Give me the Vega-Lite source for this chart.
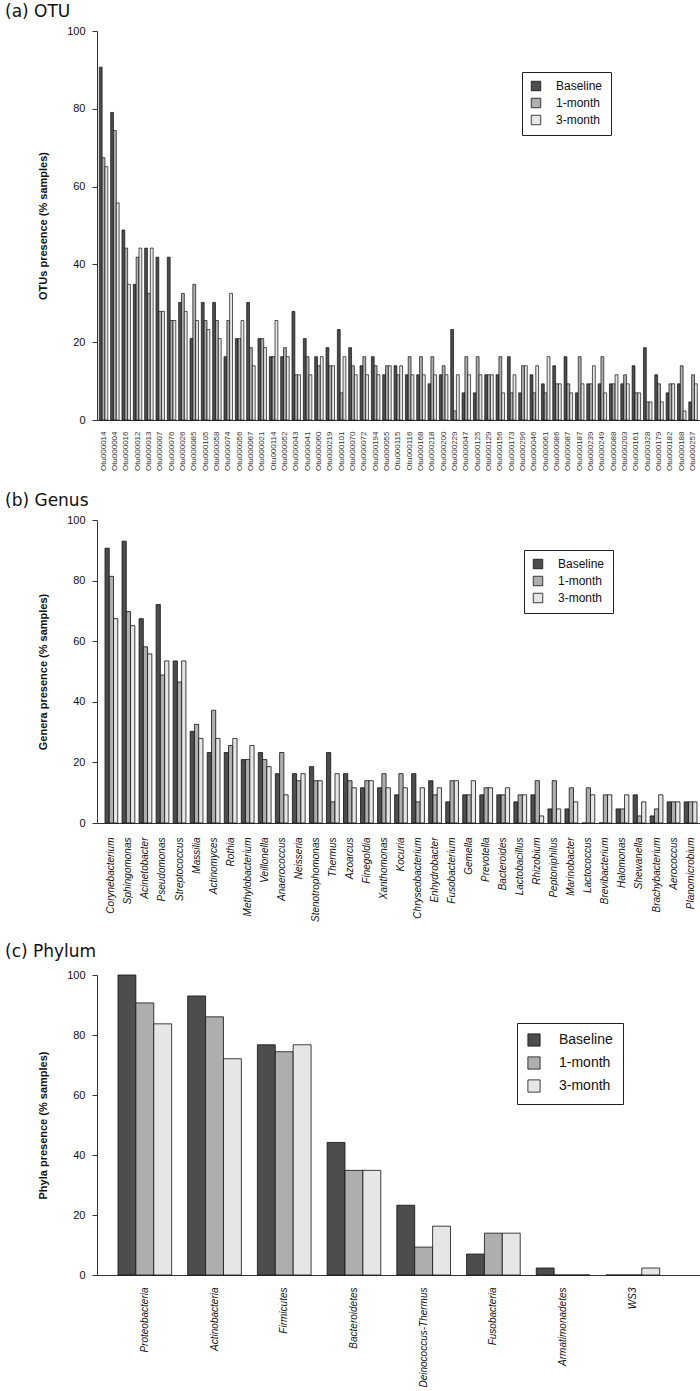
{
  "$schema": "https://vega.github.io/schema/vega-lite/v6.json",
  "background": "white",
  "padding": {"left": 5, "top": 3, "right": 0, "bottom": 0},
  "spacing": 21,
  "config": {
    "font": "Liberation Sans",
    "view": {"stroke": null},
    "axis": {"grid": false, "labelFont": "Liberation Sans", "titleFont": "Liberation Sans", "labelColor": "#111", "titleColor": "#111", "domainColor": "#333", "tickColor": "#333"},
    "title": {"font": "DejaVu Sans", "fontSize": 17, "fontWeight": "normal", "anchor": "start", "frame": "bounds", "color": "#111", "offset": 4},
    "legend": {"strokeColor": "#222", "padding": 8, "symbolType": "square", "symbolSize": 90, "symbolStrokeColor": "#111", "symbolStrokeWidth": 0.8, "labelFont": "Liberation Sans", "labelFontSize": 12, "labelColor": "#111", "labelOffset": 14, "rowPadding": 3, "fillColor": "white"}
  },
  "resolve": {"scale": {"fill": "independent", "x": "independent", "y": "independent", "xOffset": "independent"}, "legend": {"fill": "independent"}},
  "datasets": {
    "otu": [
      {"name": "Otu000014", "period": "Baseline", "value": 90.70}, {"name": "Otu000014", "period": "1-month", "value": 67.44}, {"name": "Otu000014", "period": "3-month", "value": 65.12},
      {"name": "Otu000004", "period": "Baseline", "value": 79.07}, {"name": "Otu000004", "period": "1-month", "value": 74.42}, {"name": "Otu000004", "period": "3-month", "value": 55.81},
      {"name": "Otu000016", "period": "Baseline", "value": 48.84}, {"name": "Otu000016", "period": "1-month", "value": 44.19}, {"name": "Otu000016", "period": "3-month", "value": 34.88},
      {"name": "Otu000012", "period": "Baseline", "value": 34.88}, {"name": "Otu000012", "period": "1-month", "value": 41.86}, {"name": "Otu000012", "period": "3-month", "value": 44.19},
      {"name": "Otu000013", "period": "Baseline", "value": 44.19}, {"name": "Otu000013", "period": "1-month", "value": 32.56}, {"name": "Otu000013", "period": "3-month", "value": 44.19},
      {"name": "Otu000007", "period": "Baseline", "value": 41.86}, {"name": "Otu000007", "period": "1-month", "value": 27.91}, {"name": "Otu000007", "period": "3-month", "value": 27.91},
      {"name": "Otu000076", "period": "Baseline", "value": 41.86}, {"name": "Otu000076", "period": "1-month", "value": 25.58}, {"name": "Otu000076", "period": "3-month", "value": 25.58},
      {"name": "Otu000026", "period": "Baseline", "value": 30.23}, {"name": "Otu000026", "period": "1-month", "value": 32.56}, {"name": "Otu000026", "period": "3-month", "value": 27.91},
      {"name": "Otu000085", "period": "Baseline", "value": 20.93}, {"name": "Otu000085", "period": "1-month", "value": 34.88}, {"name": "Otu000085", "period": "3-month", "value": 25.58},
      {"name": "Otu000105", "period": "Baseline", "value": 30.23}, {"name": "Otu000105", "period": "1-month", "value": 25.58}, {"name": "Otu000105", "period": "3-month", "value": 23.26},
      {"name": "Otu000058", "period": "Baseline", "value": 30.23}, {"name": "Otu000058", "period": "1-month", "value": 25.58}, {"name": "Otu000058", "period": "3-month", "value": 20.93},
      {"name": "Otu000074", "period": "Baseline", "value": 16.28}, {"name": "Otu000074", "period": "1-month", "value": 25.58}, {"name": "Otu000074", "period": "3-month", "value": 32.56},
      {"name": "Otu000056", "period": "Baseline", "value": 20.93}, {"name": "Otu000056", "period": "1-month", "value": 20.93}, {"name": "Otu000056", "period": "3-month", "value": 25.58},
      {"name": "Otu000067", "period": "Baseline", "value": 30.23}, {"name": "Otu000067", "period": "1-month", "value": 18.60}, {"name": "Otu000067", "period": "3-month", "value": 13.95},
      {"name": "Otu000021", "period": "Baseline", "value": 20.93}, {"name": "Otu000021", "period": "1-month", "value": 20.93}, {"name": "Otu000021", "period": "3-month", "value": 18.60},
      {"name": "Otu000114", "period": "Baseline", "value": 16.28}, {"name": "Otu000114", "period": "1-month", "value": 16.28}, {"name": "Otu000114", "period": "3-month", "value": 25.58},
      {"name": "Otu000052", "period": "Baseline", "value": 16.28}, {"name": "Otu000052", "period": "1-month", "value": 18.60}, {"name": "Otu000052", "period": "3-month", "value": 16.28},
      {"name": "Otu000043", "period": "Baseline", "value": 27.91}, {"name": "Otu000043", "period": "1-month", "value": 11.63}, {"name": "Otu000043", "period": "3-month", "value": 11.63},
      {"name": "Otu000041", "period": "Baseline", "value": 20.93}, {"name": "Otu000041", "period": "1-month", "value": 16.28}, {"name": "Otu000041", "period": "3-month", "value": 11.63},
      {"name": "Otu000060", "period": "Baseline", "value": 16.28}, {"name": "Otu000060", "period": "1-month", "value": 13.95}, {"name": "Otu000060", "period": "3-month", "value": 16.28},
      {"name": "Otu000219", "period": "Baseline", "value": 18.60}, {"name": "Otu000219", "period": "1-month", "value": 13.95}, {"name": "Otu000219", "period": "3-month", "value": 13.95},
      {"name": "Otu000101", "period": "Baseline", "value": 23.26}, {"name": "Otu000101", "period": "1-month", "value": 6.98}, {"name": "Otu000101", "period": "3-month", "value": 16.28},
      {"name": "Otu000070", "period": "Baseline", "value": 18.60}, {"name": "Otu000070", "period": "1-month", "value": 13.95}, {"name": "Otu000070", "period": "3-month", "value": 11.63},
      {"name": "Otu000072", "period": "Baseline", "value": 13.95}, {"name": "Otu000072", "period": "1-month", "value": 16.28}, {"name": "Otu000072", "period": "3-month", "value": 11.63},
      {"name": "Otu000194", "period": "Baseline", "value": 16.28}, {"name": "Otu000194", "period": "1-month", "value": 13.95}, {"name": "Otu000194", "period": "3-month", "value": 11.63},
      {"name": "Otu000055", "period": "Baseline", "value": 11.63}, {"name": "Otu000055", "period": "1-month", "value": 13.95}, {"name": "Otu000055", "period": "3-month", "value": 13.95},
      {"name": "Otu000115", "period": "Baseline", "value": 13.95}, {"name": "Otu000115", "period": "1-month", "value": 11.63}, {"name": "Otu000115", "period": "3-month", "value": 13.95},
      {"name": "Otu000116", "period": "Baseline", "value": 11.63}, {"name": "Otu000116", "period": "1-month", "value": 16.28}, {"name": "Otu000116", "period": "3-month", "value": 11.63},
      {"name": "Otu000168", "period": "Baseline", "value": 11.63}, {"name": "Otu000168", "period": "1-month", "value": 16.28}, {"name": "Otu000168", "period": "3-month", "value": 11.63},
      {"name": "Otu000218", "period": "Baseline", "value": 9.30}, {"name": "Otu000218", "period": "1-month", "value": 16.28}, {"name": "Otu000218", "period": "3-month", "value": 11.63},
      {"name": "Otu000200", "period": "Baseline", "value": 11.63}, {"name": "Otu000200", "period": "1-month", "value": 13.95}, {"name": "Otu000200", "period": "3-month", "value": 11.63},
      {"name": "Otu000229", "period": "Baseline", "value": 23.26}, {"name": "Otu000229", "period": "1-month", "value": 2.33}, {"name": "Otu000229", "period": "3-month", "value": 11.63},
      {"name": "Otu000047", "period": "Baseline", "value": 6.98}, {"name": "Otu000047", "period": "1-month", "value": 16.28}, {"name": "Otu000047", "period": "3-month", "value": 11.63},
      {"name": "Otu000125", "period": "Baseline", "value": 6.98}, {"name": "Otu000125", "period": "1-month", "value": 16.28}, {"name": "Otu000125", "period": "3-month", "value": 11.63},
      {"name": "Otu000129", "period": "Baseline", "value": 11.63}, {"name": "Otu000129", "period": "1-month", "value": 11.63}, {"name": "Otu000129", "period": "3-month", "value": 11.63},
      {"name": "Otu000156", "period": "Baseline", "value": 11.63}, {"name": "Otu000156", "period": "1-month", "value": 16.28}, {"name": "Otu000156", "period": "3-month", "value": 6.98},
      {"name": "Otu000173", "period": "Baseline", "value": 16.28}, {"name": "Otu000173", "period": "1-month", "value": 6.98}, {"name": "Otu000173", "period": "3-month", "value": 11.63},
      {"name": "Otu000296", "period": "Baseline", "value": 6.98}, {"name": "Otu000296", "period": "1-month", "value": 13.95}, {"name": "Otu000296", "period": "3-month", "value": 13.95},
      {"name": "Otu000046", "period": "Baseline", "value": 11.63}, {"name": "Otu000046", "period": "1-month", "value": 6.98}, {"name": "Otu000046", "period": "3-month", "value": 13.95},
      {"name": "Otu000061", "period": "Baseline", "value": 9.30}, {"name": "Otu000061", "period": "1-month", "value": 6.98}, {"name": "Otu000061", "period": "3-month", "value": 16.28},
      {"name": "Otu000086", "period": "Baseline", "value": 13.95}, {"name": "Otu000086", "period": "1-month", "value": 9.30}, {"name": "Otu000086", "period": "3-month", "value": 9.30},
      {"name": "Otu000087", "period": "Baseline", "value": 16.28}, {"name": "Otu000087", "period": "1-month", "value": 9.30}, {"name": "Otu000087", "period": "3-month", "value": 6.98},
      {"name": "Otu000187", "period": "Baseline", "value": 6.98}, {"name": "Otu000187", "period": "1-month", "value": 16.28}, {"name": "Otu000187", "period": "3-month", "value": 9.30},
      {"name": "Otu000239", "period": "Baseline", "value": 9.30}, {"name": "Otu000239", "period": "1-month", "value": 9.30}, {"name": "Otu000239", "period": "3-month", "value": 13.95},
      {"name": "Otu000249", "period": "Baseline", "value": 9.30}, {"name": "Otu000249", "period": "1-month", "value": 16.28}, {"name": "Otu000249", "period": "3-month", "value": 6.98},
      {"name": "Otu000088", "period": "Baseline", "value": 9.30}, {"name": "Otu000088", "period": "1-month", "value": 9.30}, {"name": "Otu000088", "period": "3-month", "value": 11.63},
      {"name": "Otu000203", "period": "Baseline", "value": 9.30}, {"name": "Otu000203", "period": "1-month", "value": 11.63}, {"name": "Otu000203", "period": "3-month", "value": 9.30},
      {"name": "Otu000161", "period": "Baseline", "value": 13.95}, {"name": "Otu000161", "period": "1-month", "value": 6.98}, {"name": "Otu000161", "period": "3-month", "value": 6.98},
      {"name": "Otu000328", "period": "Baseline", "value": 18.60}, {"name": "Otu000328", "period": "1-month", "value": 4.65}, {"name": "Otu000328", "period": "3-month", "value": 4.65},
      {"name": "Otu000179", "period": "Baseline", "value": 11.63}, {"name": "Otu000179", "period": "1-month", "value": 9.30}, {"name": "Otu000179", "period": "3-month", "value": 4.65},
      {"name": "Otu000182", "period": "Baseline", "value": 6.98}, {"name": "Otu000182", "period": "1-month", "value": 9.30}, {"name": "Otu000182", "period": "3-month", "value": 9.30},
      {"name": "Otu000188", "period": "Baseline", "value": 9.30}, {"name": "Otu000188", "period": "1-month", "value": 13.95}, {"name": "Otu000188", "period": "3-month", "value": 2.33},
      {"name": "Otu000257", "period": "Baseline", "value": 4.65}, {"name": "Otu000257", "period": "1-month", "value": 11.63}, {"name": "Otu000257", "period": "3-month", "value": 9.30}
    ],
    "genus": [
      {"name": "Corynebacterium", "period": "Baseline", "value": 90.70}, {"name": "Corynebacterium", "period": "1-month", "value": 81.40}, {"name": "Corynebacterium", "period": "3-month", "value": 67.44},
      {"name": "Sphingomonas", "period": "Baseline", "value": 93.02}, {"name": "Sphingomonas", "period": "1-month", "value": 69.77}, {"name": "Sphingomonas", "period": "3-month", "value": 65.12},
      {"name": "Acinetobacter", "period": "Baseline", "value": 67.44}, {"name": "Acinetobacter", "period": "1-month", "value": 58.14}, {"name": "Acinetobacter", "period": "3-month", "value": 55.81},
      {"name": "Pseudomonas", "period": "Baseline", "value": 72.09}, {"name": "Pseudomonas", "period": "1-month", "value": 48.84}, {"name": "Pseudomonas", "period": "3-month", "value": 53.49},
      {"name": "Streptococcus", "period": "Baseline", "value": 53.49}, {"name": "Streptococcus", "period": "1-month", "value": 46.51}, {"name": "Streptococcus", "period": "3-month", "value": 53.49},
      {"name": "Massilia", "period": "Baseline", "value": 30.23}, {"name": "Massilia", "period": "1-month", "value": 32.56}, {"name": "Massilia", "period": "3-month", "value": 27.91},
      {"name": "Actinomyces", "period": "Baseline", "value": 23.26}, {"name": "Actinomyces", "period": "1-month", "value": 37.21}, {"name": "Actinomyces", "period": "3-month", "value": 27.91},
      {"name": "Rothia", "period": "Baseline", "value": 23.26}, {"name": "Rothia", "period": "1-month", "value": 25.58}, {"name": "Rothia", "period": "3-month", "value": 27.91},
      {"name": "Methylobacterium", "period": "Baseline", "value": 20.93}, {"name": "Methylobacterium", "period": "1-month", "value": 20.93}, {"name": "Methylobacterium", "period": "3-month", "value": 25.58},
      {"name": "Veillonella", "period": "Baseline", "value": 23.26}, {"name": "Veillonella", "period": "1-month", "value": 20.93}, {"name": "Veillonella", "period": "3-month", "value": 18.60},
      {"name": "Anaerococcus", "period": "Baseline", "value": 16.28}, {"name": "Anaerococcus", "period": "1-month", "value": 23.26}, {"name": "Anaerococcus", "period": "3-month", "value": 9.30},
      {"name": "Neisseria", "period": "Baseline", "value": 16.28}, {"name": "Neisseria", "period": "1-month", "value": 13.95}, {"name": "Neisseria", "period": "3-month", "value": 16.28},
      {"name": "Stenotrophomonas", "period": "Baseline", "value": 18.60}, {"name": "Stenotrophomonas", "period": "1-month", "value": 13.95}, {"name": "Stenotrophomonas", "period": "3-month", "value": 13.95},
      {"name": "Thermus", "period": "Baseline", "value": 23.26}, {"name": "Thermus", "period": "1-month", "value": 6.98}, {"name": "Thermus", "period": "3-month", "value": 16.28},
      {"name": "Azoarcus", "period": "Baseline", "value": 16.28}, {"name": "Azoarcus", "period": "1-month", "value": 13.95}, {"name": "Azoarcus", "period": "3-month", "value": 11.63},
      {"name": "Finegoldia", "period": "Baseline", "value": 11.63}, {"name": "Finegoldia", "period": "1-month", "value": 13.95}, {"name": "Finegoldia", "period": "3-month", "value": 13.95},
      {"name": "Xanthomonas", "period": "Baseline", "value": 11.63}, {"name": "Xanthomonas", "period": "1-month", "value": 16.28}, {"name": "Xanthomonas", "period": "3-month", "value": 11.63},
      {"name": "Kocuria", "period": "Baseline", "value": 9.30}, {"name": "Kocuria", "period": "1-month", "value": 16.28}, {"name": "Kocuria", "period": "3-month", "value": 11.63},
      {"name": "Chryseobacterium", "period": "Baseline", "value": 16.28}, {"name": "Chryseobacterium", "period": "1-month", "value": 6.98}, {"name": "Chryseobacterium", "period": "3-month", "value": 11.63},
      {"name": "Enhydrobacter", "period": "Baseline", "value": 13.95}, {"name": "Enhydrobacter", "period": "1-month", "value": 9.30}, {"name": "Enhydrobacter", "period": "3-month", "value": 11.63},
      {"name": "Fusobacterium", "period": "Baseline", "value": 6.98}, {"name": "Fusobacterium", "period": "1-month", "value": 13.95}, {"name": "Fusobacterium", "period": "3-month", "value": 13.95},
      {"name": "Gemella", "period": "Baseline", "value": 9.30}, {"name": "Gemella", "period": "1-month", "value": 9.30}, {"name": "Gemella", "period": "3-month", "value": 13.95},
      {"name": "Prevotella", "period": "Baseline", "value": 9.30}, {"name": "Prevotella", "period": "1-month", "value": 11.63}, {"name": "Prevotella", "period": "3-month", "value": 11.63},
      {"name": "Bacteroides", "period": "Baseline", "value": 9.30}, {"name": "Bacteroides", "period": "1-month", "value": 9.30}, {"name": "Bacteroides", "period": "3-month", "value": 11.63},
      {"name": "Lactobacillus", "period": "Baseline", "value": 6.98}, {"name": "Lactobacillus", "period": "1-month", "value": 9.30}, {"name": "Lactobacillus", "period": "3-month", "value": 9.30},
      {"name": "Rhizobium", "period": "Baseline", "value": 9.30}, {"name": "Rhizobium", "period": "1-month", "value": 13.95}, {"name": "Rhizobium", "period": "3-month", "value": 2.33},
      {"name": "Peptoniphilus", "period": "Baseline", "value": 4.65}, {"name": "Peptoniphilus", "period": "1-month", "value": 13.95}, {"name": "Peptoniphilus", "period": "3-month", "value": 4.65},
      {"name": "Marinobacter", "period": "Baseline", "value": 4.65}, {"name": "Marinobacter", "period": "1-month", "value": 11.63}, {"name": "Marinobacter", "period": "3-month", "value": 6.98},
      {"name": "Lactococcus", "period": "Baseline", "value": 0}, {"name": "Lactococcus", "period": "1-month", "value": 11.63}, {"name": "Lactococcus", "period": "3-month", "value": 9.30},
      {"name": "Brevibacterium", "period": "Baseline", "value": 0}, {"name": "Brevibacterium", "period": "1-month", "value": 9.30}, {"name": "Brevibacterium", "period": "3-month", "value": 9.30},
      {"name": "Halomonas", "period": "Baseline", "value": 4.65}, {"name": "Halomonas", "period": "1-month", "value": 4.65}, {"name": "Halomonas", "period": "3-month", "value": 9.30},
      {"name": "Shewanella", "period": "Baseline", "value": 9.30}, {"name": "Shewanella", "period": "1-month", "value": 2.33}, {"name": "Shewanella", "period": "3-month", "value": 6.98},
      {"name": "Brachybacterium", "period": "Baseline", "value": 2.33}, {"name": "Brachybacterium", "period": "1-month", "value": 4.65}, {"name": "Brachybacterium", "period": "3-month", "value": 9.30},
      {"name": "Aerococcus", "period": "Baseline", "value": 6.98}, {"name": "Aerococcus", "period": "1-month", "value": 6.98}, {"name": "Aerococcus", "period": "3-month", "value": 6.98},
      {"name": "Planomicrobium", "period": "Baseline", "value": 6.98}, {"name": "Planomicrobium", "period": "1-month", "value": 6.98}, {"name": "Planomicrobium", "period": "3-month", "value": 6.98}
    ],
    "phylum": [
      {"name": "Proteobacteria", "period": "Baseline", "value": 100}, {"name": "Proteobacteria", "period": "1-month", "value": 90.70}, {"name": "Proteobacteria", "period": "3-month", "value": 83.72},
      {"name": "Actinobacteria", "period": "Baseline", "value": 93.02}, {"name": "Actinobacteria", "period": "1-month", "value": 86.05}, {"name": "Actinobacteria", "period": "3-month", "value": 72.09},
      {"name": "Firmicutes", "period": "Baseline", "value": 76.74}, {"name": "Firmicutes", "period": "1-month", "value": 74.42}, {"name": "Firmicutes", "period": "3-month", "value": 76.74},
      {"name": "Bacteroidetes", "period": "Baseline", "value": 44.19}, {"name": "Bacteroidetes", "period": "1-month", "value": 34.88}, {"name": "Bacteroidetes", "period": "3-month", "value": 34.88},
      {"name": "Deinococcus-Thermus", "period": "Baseline", "value": 23.26}, {"name": "Deinococcus-Thermus", "period": "1-month", "value": 9.30}, {"name": "Deinococcus-Thermus", "period": "3-month", "value": 16.28},
      {"name": "Fusobacteria", "period": "Baseline", "value": 6.98}, {"name": "Fusobacteria", "period": "1-month", "value": 13.95}, {"name": "Fusobacteria", "period": "3-month", "value": 13.95},
      {"name": "Armatimonadetes", "period": "Baseline", "value": 2.33}, {"name": "Armatimonadetes", "period": "1-month", "value": 0}, {"name": "Armatimonadetes", "period": "3-month", "value": 0},
      {"name": "WS3", "period": "Baseline", "value": 0}, {"name": "WS3", "period": "1-month", "value": 0}, {"name": "WS3", "period": "3-month", "value": 2.33}
    ]
  },
  "vconcat": [
    {
      "title": {"text": "(a) OTU", "dx": -32},
      "width": 603, "height": 389,
      "data": {"name": "otu"},
      "mark": {"type": "bar", "stroke": "#111", "strokeWidth": 0.7},
      "encoding": {
        "x": {"field": "name", "type": "nominal", "sort": null, "scale": {"paddingInner": 0.25, "paddingOuter": 0.22, "align": 0.46},
              "axis": {"title": null, "labelAngle": -90, "ticks": false, "labelFontSize": 8, "labelPadding": 11, "labelColor": "#333"}},
        "xOffset": {"field": "period", "type": "nominal", "sort": ["Baseline", "1-month", "3-month"], "scale": {"paddingInner": 0, "paddingOuter": 0}},
        "y": {"field": "value", "type": "quantitative", "scale": {"domain": [0, 100], "nice": false},
              "axis": {"title": "OTUs presence (% samples)", "values": [0, 20, 40, 60, 80, 100], "tickSize": 5, "labelPadding": 7, "labelFontSize": 11, "minExtent": 32, "maxExtent": 32, "titlePadding": 17, "titleFontSize": 11, "titleFontWeight": "bold"}},
        "fill": {"field": "period", "type": "nominal", "scale": {"domain": ["Baseline", "1-month", "3-month"], "range": ["#4D4D4D", "#AEAEAE", "#E6E6E6"]},
                 "legend": {"title": null, "orient": "none", "legendX": 425, "legendY": 41}}
      }
    },
    {
      "title": {"text": "(b) Genus", "dx": -32},
      "width": 603, "height": 303,
      "data": {"name": "genus"},
      "mark": {"type": "bar", "stroke": "#111", "strokeWidth": 0.8},
      "encoding": {
        "x": {"field": "name", "type": "nominal", "sort": null, "scale": {"paddingInner": 0.25, "paddingOuter": 0.323, "align": 0.727},
              "axis": {"title": null, "labelAngle": -90, "ticks": false, "labelFontSize": 10, "labelFontStyle": "italic", "labelPadding": 14}},
        "xOffset": {"field": "period", "type": "nominal", "sort": ["Baseline", "1-month", "3-month"], "scale": {"paddingInner": 0, "paddingOuter": 0}},
        "y": {"field": "value", "type": "quantitative", "scale": {"domain": [0, 100], "nice": false},
              "axis": {"title": "Genera presence (% samples)", "values": [0, 20, 40, 60, 80, 100], "tickSize": 5, "labelPadding": 7, "labelFontSize": 11, "minExtent": 32, "maxExtent": 32, "titlePadding": 17, "titleFontSize": 11, "titleFontWeight": "bold"}},
        "fill": {"field": "period", "type": "nominal", "scale": {"domain": ["Baseline", "1-month", "3-month"], "range": ["#4D4D4D", "#AEAEAE", "#E6E6E6"]},
                 "legend": {"title": null, "orient": "none", "legendX": 427, "legendY": 30}}
      }
    },
    {
      "title": {"text": "(c) Phylum", "dx": -32, "offset": 8},
      "width": 603, "height": 300,
      "data": {"name": "phylum"},
      "mark": {"type": "bar", "stroke": "#111", "strokeWidth": 0.8},
      "encoding": {
        "x": {"field": "name", "type": "nominal", "sort": null, "scale": {"paddingInner": 0.23, "paddingOuter": 0.44, "align": 0.342},
              "axis": {"title": null, "labelAngle": -90, "ticks": false, "labelFontSize": 10, "labelFontStyle": "italic", "labelPadding": 12}},
        "xOffset": {"field": "period", "type": "nominal", "sort": ["Baseline", "1-month", "3-month"], "scale": {"paddingInner": 0, "paddingOuter": 0}},
        "y": {"field": "value", "type": "quantitative", "scale": {"domain": [0, 100], "nice": false},
              "axis": {"title": "Phyla presence (% samples)", "values": [0, 20, 40, 60, 80, 100], "tickSize": 5, "labelPadding": 7, "labelFontSize": 11, "minExtent": 32, "maxExtent": 32, "titlePadding": 17, "titleFontSize": 11, "titleFontWeight": "bold"}},
        "fill": {"field": "period", "type": "nominal", "scale": {"domain": ["Baseline", "1-month", "3-month"], "range": ["#4D4D4D", "#AEAEAE", "#E6E6E6"]},
                 "legend": {"title": null, "orient": "none", "legendX": 420, "legendY": 48, "labelFontSize": 14, "symbolSize": 150, "padding": 10, "rowPadding": 7, "labelOffset": 18,
                            "labelExpr": "datum.label + '\u00a0\u00a0\u00a0'"}}
      }
    }
  ]
}
